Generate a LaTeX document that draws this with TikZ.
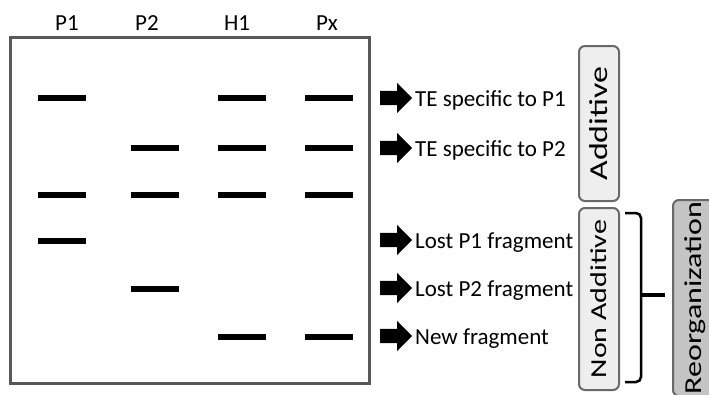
\documentclass[tikz,border=0pt]{standalone}
\usepackage{graphicx}
\usepackage{fontspec}
\setmainfont{Carlito}
\usetikzlibrary{shapes.arrows,positioning}
\definecolor{GelFrame}{RGB}{88,88,88}
\definecolor{TagLine}{RGB}{105,105,105}
\definecolor{TagFill}{RGB}{238,238,238}
\definecolor{OrgFill}{RGB}{196,196,196}

% narrow upright letters for the rotated tags
\newcommand{\tagtext}[1]{\scalebox{1}[0.76]{#1}}

\tikzset{
  lane/.style={anchor=base,inner sep=0pt,font=\fontsize{23}{26}\selectfont},
  band/.style={line width=6pt},
  pointer/.style={single arrow,fill=black,draw=none,inner xsep=0pt,inner ysep=7pt,anchor=tail,
    minimum width=30pt,minimum height=32pt,single arrow head extend=8pt,single arrow head indent=0pt},
  result/.style={anchor=base west,inner sep=0pt,font=\fontsize{23}{26}\selectfont},
  tag/.style={draw=TagLine,line width=2pt,fill=TagFill,rounded corners=6pt,rotate=90,
    inner sep=0pt,minimum height=40pt},
}

\begin{document}
\begin{tikzpicture}[x=1pt,y=-1pt]
\useasboundingbox (0,0) rectangle (709,394);
\clip (0,0) rectangle (709,394);

% gel frame and lane names
\draw[GelFrame,line width=3pt] (10,37) rectangle (369,383);
\node[lane] (p1) at (67,30) {P1};
\node[lane] (p2) at (147,30) {P2};
\node[lane] (h1) at (237,30) {H1};
\node[lane] (px) at (327,30) {Px};

% bands: lane centre / row
\foreach \x/\y in {62/98,242/98,329/98,
                   155/148,242/148,329/148,
                   62/195,155/195,242/195,329/195,
                   62/241,155/289,242/337,329/337}
  \draw[band] (\x-24,\y) -- (\x+24,\y);

% pointers and what they mean
\node[pointer] (a1) at (380,98) {};
\node[pointer] (a2) at (380,148) {};
\node[pointer] (a3) at (380,240) {};
\node[pointer] (a4) at (380,288) {};
\node[pointer] (a5) at (380,336) {};
\node[result] (r1) at (415,106) {TE specific to P1};
\node[result] (r2) at (415,156) {TE specific to P2};
\node[result] (r3) at (415,248) {Lost P1 fragment};
\node[result] (r4) at (415,296) {Lost P2 fragment};
\node[result] (r5) at (415,344) {New fragment};

% classes
\node[tag,minimum width=155pt,font=\fontsize{34}{36}\selectfont] (add) at (599,123.5) {\tagtext{Additive}};
\node[tag,minimum width=182pt,font=\fontsize{30}{32}\selectfont] (nonadd) at (599,299) {\tagtext{Non Additive}};
\draw[line width=2.5pt,rounded corners=5pt] (625,213) -- (641,213) -- (641,382) -- (625,382);
\draw[line width=4pt] (641,295) -- (665,295);
\node[tag,fill=OrgFill,minimum width=196pt,minimum height=44pt,font=\fontsize{32}{34}\selectfont] (reorg) at (695,298) {\tagtext{Reorganization}};
\end{tikzpicture}
\end{document}
